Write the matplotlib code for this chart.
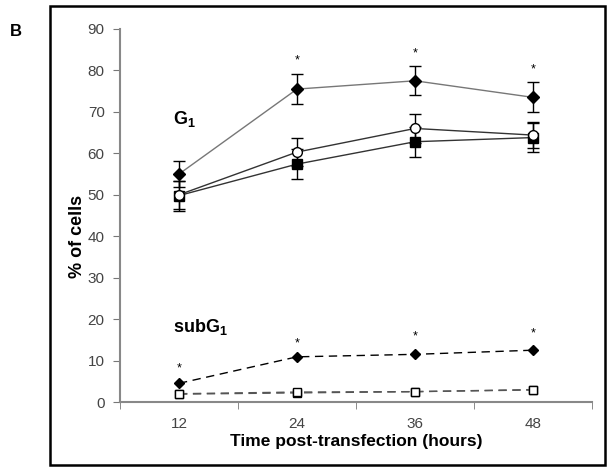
import matplotlib
matplotlib.use('Agg')
import matplotlib.pyplot as plt
from matplotlib.patches import Rectangle

plt.rcParams['font.family'] = ['Liberation Sans', 'DejaVu Sans']
plt.rcParams['mathtext.fontset'] = 'custom'
plt.rcParams['mathtext.bf'] = 'Liberation Sans:bold'
plt.rcParams['mathtext.rm'] = 'Liberation Sans'

hours = [12, 24, 36, 48]

# G1 phase
g1_diamond = [55.0, 75.5, 77.5, 73.5]
g1_diamond_err = [3.2, 3.6, 3.5, 3.6]
g1_circle = [50.0, 60.3, 66.0, 64.4]
g1_circle_err = [3.4, 3.4, 3.5, 3.1]
g1_square = [49.8, 57.4, 62.8, 63.8]
g1_square_err = [3.6, 3.7, 3.6, 3.5]

# subG1 phase
sub_diamond = [4.5, 10.9, 11.5, 12.5]
sub_open1 = [1.9, 2.2, 2.5, 2.9]
sub_open2 = [2.0, 2.4, 2.5, 3.0]

star_g1 = [None, 82.5, 84.2, 80.3]
star_sub = [8.2, 14.2, 15.7, 16.6]

fig = plt.figure(figsize=(6.11, 4.72), dpi=100)
ax = fig.add_axes([0.1964, 0.1483, 0.7725, 0.7903])

ekw = dict(ecolor='black', elinewidth=1.0, capsize=4, capthick=1.0)
ax.errorbar(hours, g1_square, yerr=g1_square_err, color='#333333', lw=1,
            marker='s', ms=7, mfc='black', mec='black', **ekw)
ax.errorbar(hours, g1_circle, yerr=g1_circle_err, color='#333333', lw=1,
            marker='o', ms=7, mfc='white', mec='black', **ekw)
ax.errorbar(hours, g1_diamond, yerr=g1_diamond_err, color='#777777', lw=1,
            marker='D', ms=6, mfc='black', mec='black', **ekw)

ax.plot(hours, sub_open1, ls=(0, (6, 4)), color='#555555', lw=1,
        marker='s', ms=6, mfc='white', mec='black')
ax.plot(hours, sub_open2, ls=(0, (6, 4)), color='#555555', lw=1,
        marker='s', ms=6, mfc='white', mec='black')
ax.plot(hours, sub_diamond, ls=(0, (6, 4)), color='black', lw=1,
        marker='D', ms=5, mfc='black', mec='black')

for h, s in zip(hours, star_g1):
    if s is not None:
        ax.text(h, s, '*', ha='center', va='center', fontsize=9)
for h, s in zip(hours, star_sub):
    ax.text(h, s, '*', ha='center', va='center', fontsize=9)

ax.text(11.4, 67, 'G$_\\mathbf{1}$', fontsize=13, fontweight='bold')
ax.text(11.4, 17, 'subG$_\\mathbf{1}$', fontsize=13, fontweight='bold')

ax.set_xlim(6, 54)
ax.set_ylim(0, 90)
ax.set_yticks(range(0, 91, 10))
ax.set_xticks(hours)
ax.set_xticks([6, 18, 30, 42, 54], minor=True)
ax.tick_params(axis='x', which='major', length=0, pad=11)
ax.tick_params(axis='x', which='minor', length=5, color='#777777', direction='out')
ax.tick_params(axis='y', length=5, color='#777777', direction='out', pad=6)
ax.tick_params(labelsize=11, labelcolor='#444444')

for sp in ['top', 'right']:
    ax.spines[sp].set_visible(False)
for sp in ['left', 'bottom']:
    ax.spines[sp].set_color('#888888')
    ax.spines[sp].set_linewidth(1.5)

ax.set_xlabel('Time post-transfection (hours)', fontsize=12.5, fontweight='bold', labelpad=2)
ax.set_ylabel('% of cells', fontsize=13, fontweight='bold')
ax.yaxis.set_label_coords(-0.072, 0.445)

fig.patches.append(Rectangle((50 / 611, 1 - 465 / 472), 555 / 611, 459 / 472,
                             transform=fig.transFigure, fill=False,
                             edgecolor='black', linewidth=1.8))
fig.text(10 / 611, 1 - 36 / 472, 'B', fontsize=12, fontweight='bold')

fig.savefig('out.png', dpi=100)
